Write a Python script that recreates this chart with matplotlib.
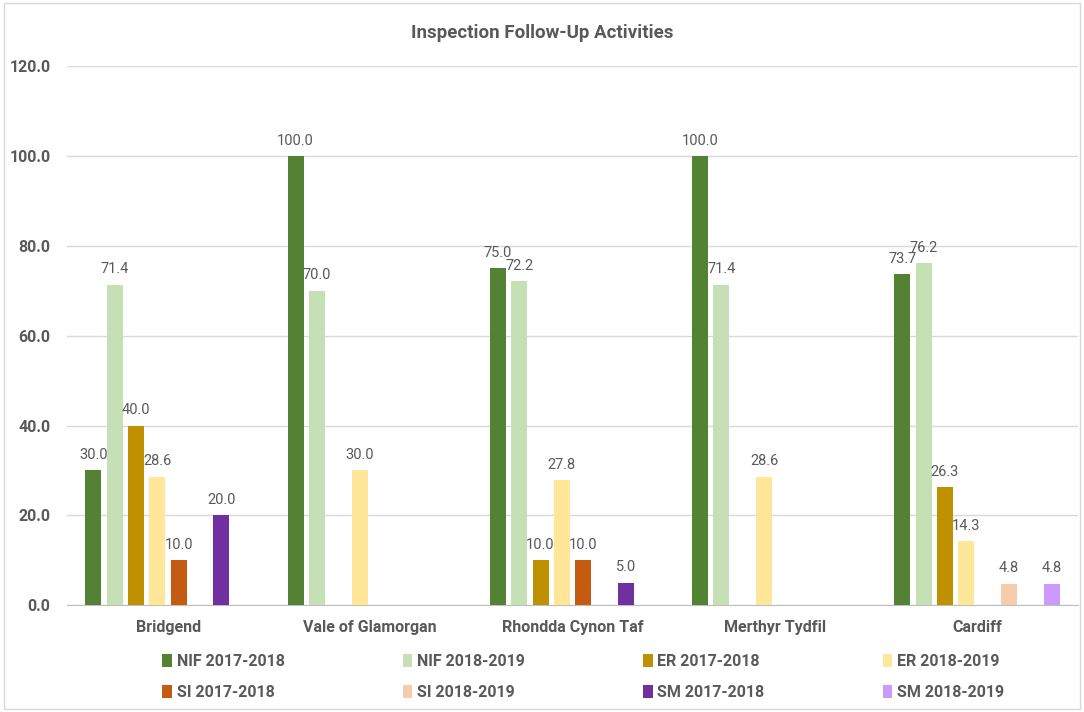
import numpy as np
import matplotlib
matplotlib.use("Agg")
import matplotlib.pyplot as plt
from matplotlib.patches import Rectangle, Patch

# Health board areas and follow-up percentages per activity and year
categories = ["Bridgend", "Vale of Glamorgan", "Rhondda Cynon Taf", "Merthyr Tydfil", "Cardiff"]
series_names = ["NIF 2017-2018", "NIF 2018-2019", "ER 2017-2018", "ER 2018-2019",
                "SI 2017-2018", "SI 2018-2019", "SM 2017-2018", "SM 2018-2019"]
nan = np.nan
nif_2017 = [30.0, 100.0, 75.0, 100.0, 73.7]
nif_2018 = [71.4, 70.0, 72.2, 71.4, 76.2]
er_2017 = [40.0, nan, 10.0, nan, 26.3]
er_2018 = [28.6, 30.0, 27.8, 28.6, 14.3]
si_2017 = [10.0, nan, 10.0, nan, nan]
si_2018 = [nan, nan, nan, nan, 4.8]
sm_2017 = [20.0, nan, 5.0, nan, nan]
sm_2018 = [nan, nan, nan, nan, 4.8]
series_values = [nif_2017, nif_2018, er_2017, er_2018, si_2017, si_2018, sm_2017, sm_2018]
colors = ["#548235", "#C5E0B4", "#BF9000", "#FFE699",
          "#C55A11", "#F8CBAD", "#7030A0", "#CC99FF"]
y_ticks = [0, 20, 40, 60, 80, 100, 120]

text_color = "#595959"
bold_font = ["Roboto", "DejaVu Sans"]
label_font = ["Roboto", "DejaVu Sans"]

fig = plt.figure(figsize=(10.84, 7.12), dpi=100)
fig.patches.append(Rectangle((0.004, 0.004), 0.992, 0.992, transform=fig.transFigure,
                             fill=False, edgecolor="#d9d9d9", linewidth=1.0))

ax = fig.add_axes([0.0618, 0.150, 0.9327, 0.757])

n = len(series_values)
slot = 0.1055
width = 0.079
x = np.arange(len(categories))
for i, (vals, col) in enumerate(zip(series_values, colors)):
    offs = (i - (n - 1) / 2) * slot
    vals = np.array(vals, dtype=float)
    keep = ~np.isnan(vals)
    bars = ax.bar(x[keep] + offs, vals[keep], width=width, color=col, zorder=3)
    for b, v in zip(bars, vals[keep]):
        ax.annotate(f"{v:.1f}", (b.get_x() + b.get_width() / 2, v),
                    xytext=(0, 6), textcoords="offset points", ha="center", va="bottom",
                    fontsize=10.5, color=text_color, family=label_font)

ax.set_xlim(-0.5, len(categories) - 0.5)
ax.set_ylim(0, 120)
ax.set_yticks(y_ticks)
ax.set_yticklabels([f"{t:.1f}" for t in y_ticks], fontsize=11.5, fontweight="bold",
                   color=text_color, family=bold_font)
ax.set_xticks(x)
ax.set_xticklabels(categories, fontsize=11.5, fontweight="bold", color=text_color, family=bold_font)
ax.tick_params(axis="both", length=0)
ax.tick_params(axis="y", pad=12)
ax.tick_params(axis="x", pad=11)
ax.grid(axis="y", color="#d9d9d9", linewidth=1.0, zorder=0)
for s in ["top", "right", "left"]:
    ax.spines[s].set_visible(False)
ax.spines["bottom"].set_color("#bfbfbf")

fig.text(0.5, 0.953, "Inspection Follow-Up Activities", ha="center", va="center",
         fontsize=13.5, fontweight="bold", color=text_color, family=bold_font)

# legend laid out row by row: matplotlib fills columns first, so interleave
handles = [Patch(facecolor=c, edgecolor="none") for c in colors]
order = [0, 4, 1, 5, 2, 6, 3, 7]
leg = fig.legend([handles[k] for k in order], [series_names[k] for k in order],
                 loc="center", bbox_to_anchor=(0.538, 0.049), ncol=4, frameon=False,
                 handlelength=0.6, handleheight=0.9, handletextpad=0.3,
                 columnspacing=7.4, labelspacing=1.0,
                 prop={"size": 11.5, "weight": "bold", "family": bold_font})
for t in leg.get_texts():
    t.set_color(text_color)

fig.savefig("out.png", dpi=100)
